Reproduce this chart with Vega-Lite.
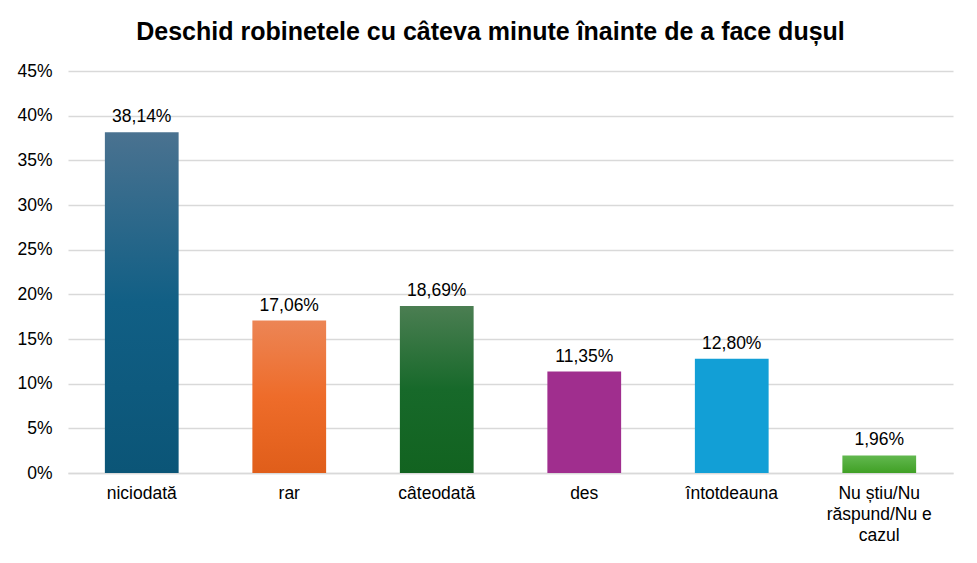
{
  "$schema": "https://vega.github.io/schema/vega-lite/v6.json",
  "width": 885,
  "height": 402,
  "autosize": "none",
  "padding": {"left": 68, "top": 71, "right": 24, "bottom": 90},
  "background": "white",
  "title": {
    "text": "Deschid robinetele cu câteva minute înainte de  a face dușul",
    "font": "Liberation Sans",
    "fontSize": 25,
    "fontWeight": "bold",
    "color": "#000000",
    "anchor": "middle",
    "dx": -20,
    "offset": 17
  },
  "data": {
    "values": [
      {"raspuns": "niciodată", "procent": 0.3814},
      {"raspuns": "rar", "procent": 0.1706},
      {"raspuns": "câteodată", "procent": 0.1869},
      {"raspuns": "des", "procent": 0.1135},
      {"raspuns": "întotdeauna", "procent": 0.128},
      {"raspuns": "Nu știu/Nu răspund/Nu e cazul", "procent": 0.0196}
    ]
  },
  "config": {
    "view": {"stroke": null},
    "font": "Liberation Sans",
    "axis": {
      "labelFont": "Liberation Sans",
      "labelFontSize": 17.5,
      "labelColor": "#000000",
      "ticks": false,
      "title": null
    }
  },
  "encoding": {
    "x": {
      "field": "raspuns",
      "type": "nominal",
      "sort": null,
      "scale": {"paddingInner": 0.5, "paddingOuter": 0.25},
      "axis": {
        "labelAngle": 0,
        "labelPadding": 11,
        "labelLineHeight": 21,
        "domainColor": "#d9d9d9",
        "domainWidth": 1.5,
        "labelExpr": "datum.value == 'Nu știu/Nu răspund/Nu e cazul' ? ['Nu știu/Nu', 'răspund/Nu e', 'cazul'] : datum.value"
      }
    },
    "y": {
      "field": "procent",
      "type": "quantitative",
      "scale": {"domain": [0, 0.45], "nice": false},
      "axis": {
        "values": [0, 0.05, 0.1, 0.15, 0.2, 0.25, 0.3, 0.35, 0.4, 0.45],
        "format": ".0%",
        "labelPadding": 16,
        "domain": false,
        "gridColor": "#d9d9d9",
        "gridWidth": 1.5
      }
    }
  },
  "layer": [
    {
      "transform": [{"filter": "datum.raspuns == 'niciodată'"}],
      "mark": {"type": "bar", "color": {"gradient": "linear", "x1": 0, "y1": 0, "x2": 0, "y2": 1,
        "stops": [{"offset": 0, "color": "#4a7290"}, {"offset": 0.5, "color": "#115f85"}, {"offset": 1, "color": "#0b5577"}]}}
    },
    {
      "transform": [{"filter": "datum.raspuns == 'rar'"}],
      "mark": {"type": "bar", "color": {"gradient": "linear", "x1": 0, "y1": 0, "x2": 0, "y2": 1,
        "stops": [{"offset": 0, "color": "#ec8555"}, {"offset": 0.5, "color": "#ee6c2a"}, {"offset": 1, "color": "#e05e1a"}]}}
    },
    {
      "transform": [{"filter": "datum.raspuns == 'câteodată'"}],
      "mark": {"type": "bar", "color": {"gradient": "linear", "x1": 0, "y1": 0, "x2": 0, "y2": 1,
        "stops": [{"offset": 0, "color": "#4b7e52"}, {"offset": 0.5, "color": "#17692a"}, {"offset": 1, "color": "#126320"}]}}
    },
    {
      "transform": [{"filter": "datum.raspuns == 'des'"}],
      "mark": {"type": "bar", "color": "#a02e8e"}
    },
    {
      "transform": [{"filter": "datum.raspuns == 'întotdeauna'"}],
      "mark": {"type": "bar", "color": "#129fd6"}
    },
    {
      "transform": [{"filter": "datum.raspuns == 'Nu știu/Nu răspund/Nu e cazul'"}],
      "mark": {"type": "bar", "color": {"gradient": "linear", "x1": 0, "y1": 0, "x2": 0, "y2": 1,
        "stops": [{"offset": 0, "color": "#62b84f"}, {"offset": 1, "color": "#40a025"}]}}
    },
    {
      "mark": {
        "type": "text",
        "baseline": "bottom",
        "dy": -6,
        "fontSize": 17.5,
        "color": "#000000",
        "text": {"expr": "replace(format(datum.procent, '.2%'), '.', ',')"}
      }
    }
  ]
}
